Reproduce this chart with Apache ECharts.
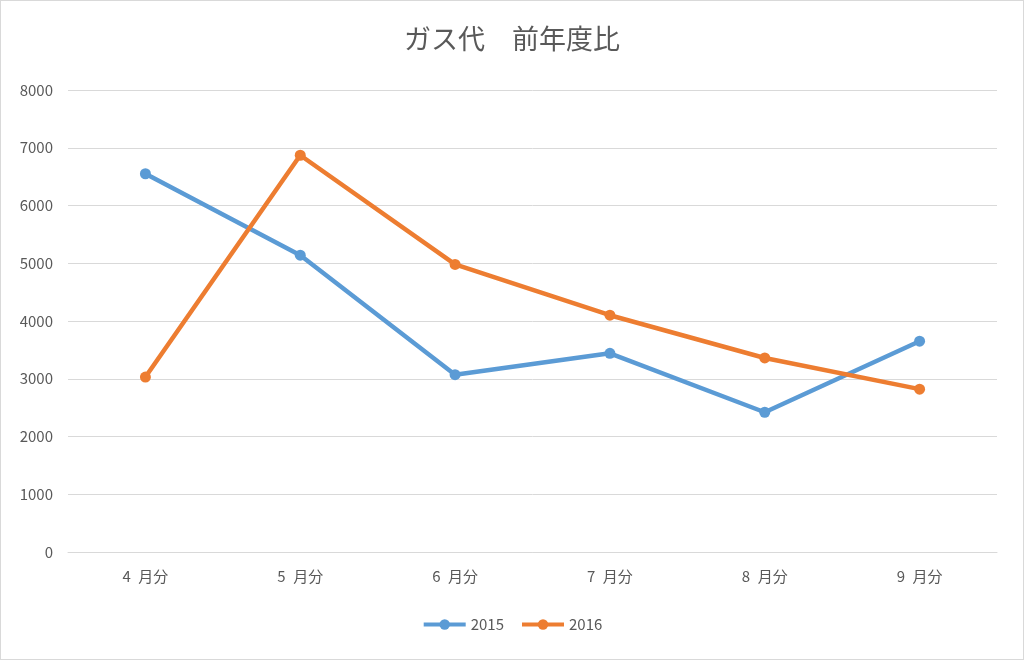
<!DOCTYPE html>
<html>
<head>
<meta charset="utf-8">
<script src="https://cdn.jsdelivr.net/npm/echarts@6/dist/echarts.min.js"></script>
<style>
html,body{margin:0;padding:0;background:#fff;}
#c{width:1024px;height:660px;box-sizing:border-box;border:1px solid #d9d9d9;}
</style>
</head>
<body>
<div id="c"></div>
<script>
const categories = ["4\u2002月分","5\u2002月分","6\u2002月分","7\u2002月分","8\u2002月分","9\u2002月分"];
const s2015 = [6550, 5140, 3070, 3440, 2420, 3650];
const s2016 = [3030, 6870, 4980, 4100, 3360, 2820];
const yTicks = {min: 0, max: 8000, interval: 1000};

const chart = echarts.init(document.getElementById('c'));
const font = '"Noto Sans CJK JP", "Noto Sans", sans-serif';
chart.setOption({
  animation: false,
  title: {
    text: 'ガス代\u3000前年度比',
    left: 'center', top: 19,
    textStyle: {fontFamily: font, fontSize: 27, fontWeight: 'normal', color: '#595959'}
  },
  legend: {
    bottom: 22, left: 'center',
    itemWidth: 42, itemHeight: 13, itemGap: 16,
    lineStyle: {width: 4},
    textStyle: {fontFamily: font, fontSize: 15, color: '#595959'},
    data: ['2015','2016']
  },
  grid: {left: 67, right: 26, top: 89, bottom: 107, containLabel: false},
  xAxis: {
    type: 'category', data: categories, boundaryGap: true,
    axisLine: {show: true, lineStyle: {color: '#d9d9d9', width: 1}},
    axisTick: {show: false},
    axisLabel: {fontFamily: font, fontSize: 15, color: '#595959', margin: 17}
  },
  yAxis: {
    type: 'value', min: yTicks.min, max: yTicks.max, interval: yTicks.interval,
    axisLine: {show: false}, axisTick: {show: false},
    splitLine: {lineStyle: {color: '#d9d9d9', width: 1}},
    axisLabel: {fontFamily: font, fontSize: 15, color: '#595959', margin: 15,
                formatter: v => String(v)}
  },
  series: [
    {name: '2015', type: 'line', data: s2015, symbol: 'circle', symbolSize: 11,
     lineStyle: {color: '#5B9BD5', width: 4.5}, itemStyle: {color: '#5B9BD5'}},
    {name: '2016', type: 'line', data: s2016, symbol: 'circle', symbolSize: 11,
     lineStyle: {color: '#ED7D31', width: 4.5}, itemStyle: {color: '#ED7D31'}}
  ]
});
</script>
</body>
</html>
